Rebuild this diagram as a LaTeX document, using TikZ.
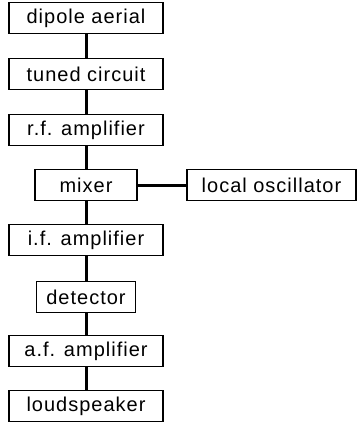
\documentclass[tikz,border=0pt]{standalone}
\usepackage{fontspec}
\setmainfont[LetterSpace=5]{Liberation Sans}
\usepackage{tikz}

\begin{document}
\begin{tikzpicture}[x=1pt,y=-1pt,
        blk/.style={draw,line width=1.4pt,inner sep=0pt,minimum height=31pt,
            font=\fontsize{20}{22}\selectfont},
        wire/.style={line width=3pt}]
            \useasboundingbox (0,0) rectangle (357,424);
            \foreach \name/\y/\w/\txt in {aerial/18/154/dipole aerial,
                tuned/74/154/tuned circuit,rfamp/130/154/r.f. amplifier,
                mixer/185/102/mixer,ifamp/240/154/i.f. amplifier,
                detector/297/99/detector,afamp/351/154/a.f. amplifier,
                speaker/406/154/loudspeaker}{
                \node[blk,minimum width=\w pt] (\name) at (86,\y) {\txt};
            }
            \node[blk,minimum width=169pt] (oscillator) at (271.5,185) {local oscillator};
            \foreach \a/\b in {aerial/tuned,tuned/rfamp,rfamp/mixer,mixer/ifamp,
                ifamp/detector,detector/afamp,afamp/speaker}{
                \draw[wire] (\a) -- (\b);
            }
            \draw[wire] (mixer) -- (oscillator);
        \end{tikzpicture}
\end{document}
